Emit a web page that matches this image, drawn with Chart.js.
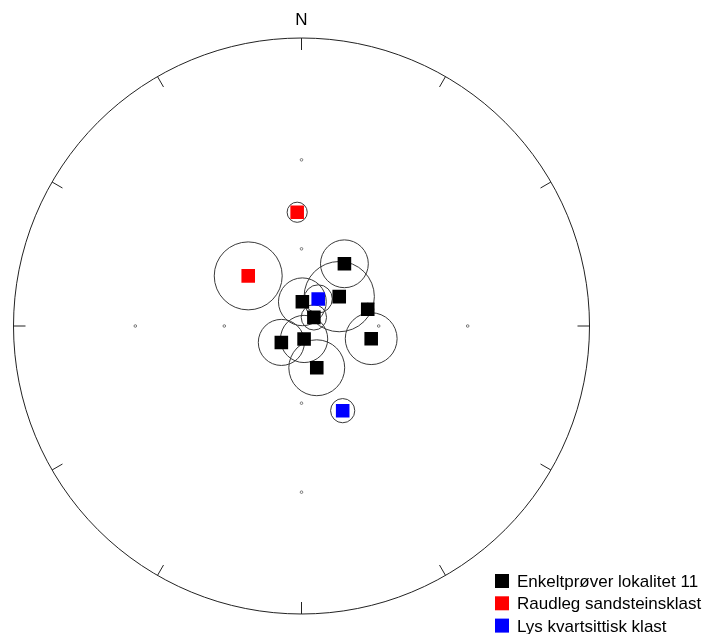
<!DOCTYPE html>
<html>
<head>
<meta charset="utf-8">
<script src="https://cdn.jsdelivr.net/npm/chart.js@4/dist/chart.umd.min.js"></script>
<style>
  html, body { margin: 0; padding: 0; background: #fff; }
  #wrap { width: 712px; height: 634px; }
</style>
</head>
<body>
<div id="wrap"><canvas id="net" width="712" height="634"></canvas></div>
<script>
// Stereonet positions (projected net units, primitive circle = radius 1, +y = North)
// and alpha95 confidence-circle radii in the same units.
const enkeltX   = [0.149, 0.131, 0.003, 0.043, 0.230, 0.242, -0.070, 0.009, 0.053];
const enkeltY   = [0.216, 0.102, 0.084, 0.030, 0.058, -0.044, -0.057, -0.045, -0.145];
const enkeltA95 = [0.083, 0.122, 0.083, 0.044, 0.021, 0.090, 0.080, 0.082, 0.097];

const raudX   = [-0.015, -0.185];
const raudY   = [0.395, 0.174];
const raudA95 = [0.035, 0.118];

const lysX   = [0.058, 0.143];
const lysY   = [0.094, -0.294];
const lysA95 = [0.049, 0.042];

// Inclination reference dots on the N-S and E-W axes
const gridRadii = [0.268, 0.577];
// Azimuths of the perimeter ticks (degrees from North)
const tickAzimuths = [0, 30, 60, 90, 120, 150, 180, 210, 240, 270, 300, 330];

const seriesNames = ['Enkeltprøver lokalitet 11', 'Raudleg sandsteinsklast', 'Lys kvartsittisk klast'];
const seriesColors = ['#000000', '#ff0000', '#0000ff'];

const toPoints = (xs, ys) => xs.map((v, i) => ({ x: v, y: ys[i] }));

const gridPoints = [];
gridRadii.forEach(r => {
  gridPoints.push({ x: 0, y: r }, { x: 0, y: -r }, { x: r, y: 0 }, { x: -r, y: 0 });
});

const FONT = '"Liberation Sans", Arial, sans-serif';

const netPlugin = {
  id: 'stereonet',
  beforeDatasetsDraw(chart) {
    const { ctx } = chart;
    const xs = chart.scales.x, ys = chart.scales.y;
    const cx = xs.getPixelForValue(0), cy = ys.getPixelForValue(0);
    const R = xs.getPixelForValue(1) - cx;
    ctx.save();
    // primitive circle
    ctx.strokeStyle = '#222';
    ctx.lineWidth = 1;
    ctx.beginPath();
    ctx.arc(cx, cy, R, 0, Math.PI * 2);
    ctx.stroke();
    // perimeter ticks
    tickAzimuths.forEach(az => {
      const a = az * Math.PI / 180;
      const sx = Math.sin(a), sy = -Math.cos(a);
      ctx.beginPath();
      ctx.moveTo(cx + sx * R, cy + sy * R);
      ctx.lineTo(cx + sx * (R - 12), cy + sy * (R - 12));
      ctx.stroke();
    });
    // North label
    ctx.fillStyle = '#000';
    ctx.font = '17px ' + FONT;
    ctx.textAlign = 'center';
    ctx.textBaseline = 'alphabetic';
    ctx.fillText('N', cx, cy - R - 13);
    // alpha95 confidence circles
    const groups = [[enkeltX, enkeltY, enkeltA95], [raudX, raudY, raudA95], [lysX, lysY, lysA95]];
    ctx.strokeStyle = '#3a3a3a';
    groups.forEach(([gx, gy, ga]) => {
      gx.forEach((vx, i) => {
        const px = xs.getPixelForValue(vx);
        const py = ys.getPixelForValue(gy[i]);
        const pr = xs.getPixelForValue(vx + ga[i]) - px;
        ctx.beginPath();
        ctx.arc(px, py, pr, 0, Math.PI * 2);
        ctx.stroke();
      });
    });
    ctx.restore();
  },
  afterDraw(chart) {
    const { ctx } = chart;
    ctx.save();
    ctx.font = '17px ' + FONT;
    ctx.textAlign = 'left';
    ctx.textBaseline = 'alphabetic';
    seriesNames.forEach((name, i) => {
      const top = 574 + i * 22.3;
      ctx.fillStyle = seriesColors[i];
      ctx.fillRect(495, top, 14, 14);
      ctx.fillStyle = '#000';
      ctx.fillText(name, 517, top + 13);
    });
    ctx.restore();
  }
};

const squareStyle = color => ({
  pointStyle: 'rect',
  pointRadius: 9.6,
  pointHoverRadius: 9.6,
  backgroundColor: color,
  borderColor: color,
  borderWidth: 0,
  showLine: false
});

new Chart(document.getElementById('net'), {
  type: 'scatter',
  data: {
    datasets: [
      {
        label: 'grid',
        data: gridPoints,
        pointStyle: 'circle',
        pointRadius: 1.3,
        backgroundColor: '#ffffff',
        borderColor: '#777777',
        borderWidth: 1
      },
      { label: seriesNames[0], data: toPoints(enkeltX, enkeltY), ...squareStyle(seriesColors[0]) },
      { label: seriesNames[1], data: toPoints(raudX, raudY), ...squareStyle(seriesColors[1]) },
      { label: seriesNames[2], data: toPoints(lysX, lysY), ...squareStyle(seriesColors[2]) }
    ]
  },
  options: {
    responsive: false,
    maintainAspectRatio: false,
    devicePixelRatio: 1,
    animation: false,
    layout: { padding: { left: 13.5, right: 122.5, top: 38, bottom: 20 } },
    scales: {
      x: { type: 'linear', min: -1, max: 1, display: false },
      y: { type: 'linear', min: -1, max: 1, display: false }
    },
    plugins: {
      legend: { display: false },
      tooltip: { enabled: false },
      title: { display: false }
    }
  },
  plugins: [netPlugin]
});
</script>
</body>
</html>
